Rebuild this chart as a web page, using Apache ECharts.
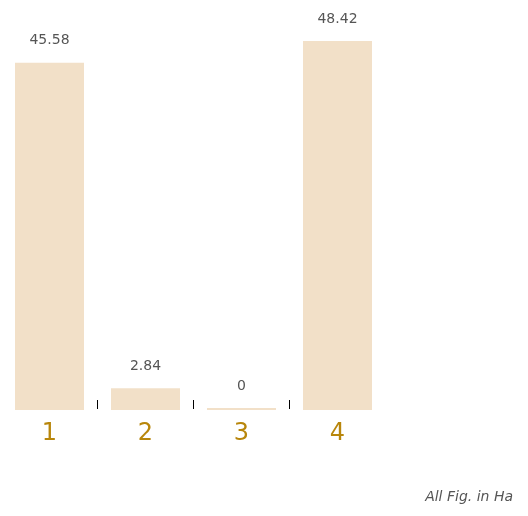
<!DOCTYPE html>
<html><head><meta charset="utf-8">
<script src="https://cdn.jsdelivr.net/npm/echarts@6/dist/echarts.min.js"></script>
<style>html,body{margin:0;padding:0;background:#fff}#c{width:528px;height:516px}</style>
</head><body><div id="c"></div>
<script>
const categories = ['1', '2', '3', '4'];
const values = [45.58, 2.84, 0, 48.42];
const note = 'All Fig. in Ha';

const chart = echarts.init(document.getElementById('c'), null, {renderer: 'canvas'});
chart.setOption({
  animation: false,
  grid: [
    {left: 1.5, right: 142.5, top: 29, bottom: 106},
    {left: 1.5, right: 142.5, top: 400, height: 9}
  ],
  xAxis: [
    {type: 'category', data: categories, gridIndex: 0,
     axisLine: {show: false}, axisTick: {show: false},
     axisLabel: {color: '#b8860b', fontSize: 24, fontFamily: 'DejaVu Sans', margin: 12}},
    {type: 'category', data: categories, gridIndex: 1,
     axisLine: {show: false}, axisTick: {show: false}, axisLabel: {show: false},
     splitLine: {show: true, showMinLine: false, showMaxLine: false, lineStyle: {color: '#000', width: 1}}}
  ],
  yAxis: [
    {type: 'value', min: 0, max: 50, gridIndex: 0, show: false},
    {type: 'value', gridIndex: 1, show: false}
  ],
  series: [{
    type: 'bar', data: values, barWidth: 69, barMinHeight: 2,
    itemStyle: {color: '#f2e0c8'},
    label: {show: true, position: 'top', distance: 15, color: '#555', fontSize: 14, fontFamily: 'DejaVu Sans'}
  }],
  graphic: [{
    type: 'text', right: 15, top: 490,
    style: {text: note, fill: '#555', font: 'italic 14px "DejaVu Sans"'}
  }]
});
</script></body></html>
